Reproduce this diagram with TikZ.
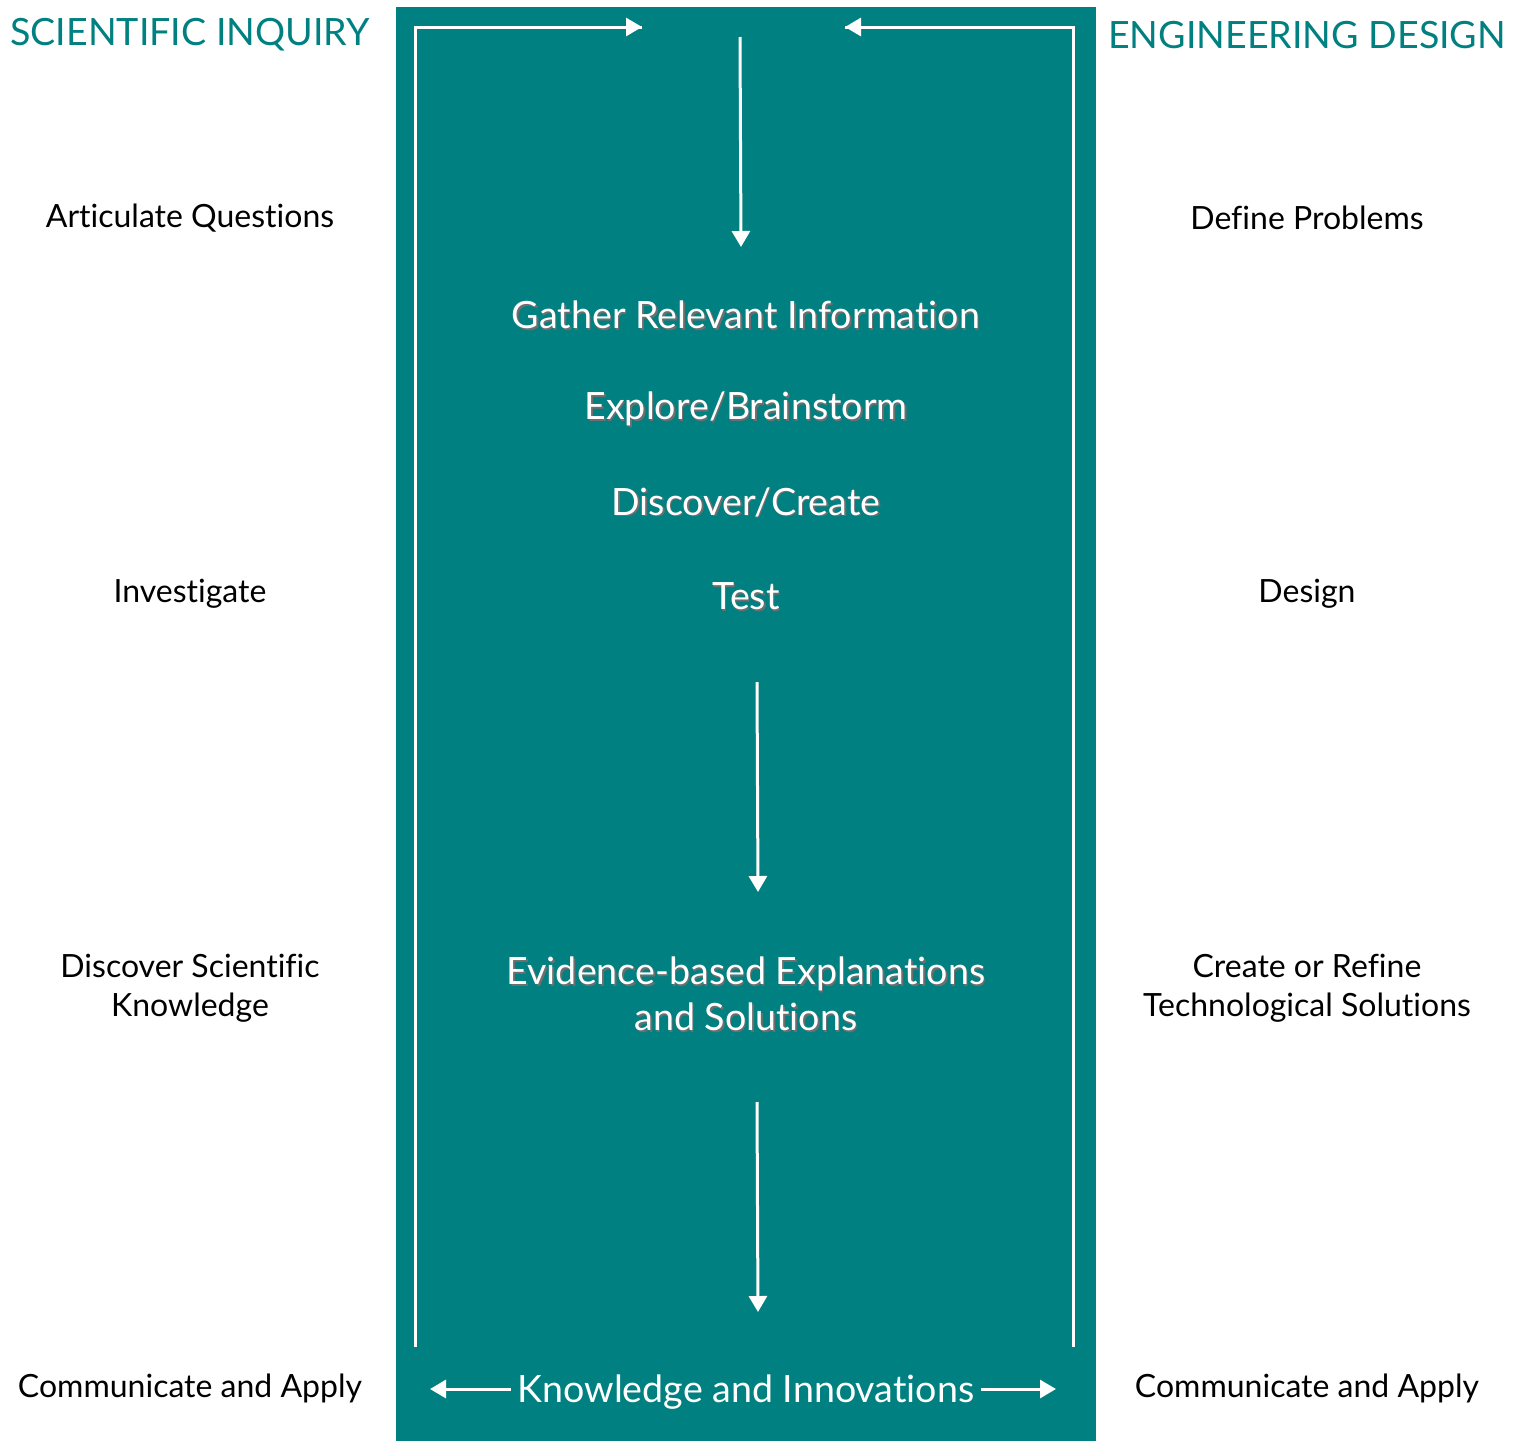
\documentclass[tikz,border=0pt]{standalone}
\usepackage{fontspec}
\setmainfont{Lato}[Ligatures={NoCommon,NoDiscretionary,NoContextual}]
\usetikzlibrary{arrows.meta}
\definecolor{teal1}{RGB}{0,128,128}
\definecolor{shade1}{RGB}{110,110,110}
% white text with a small grey shadow
\newcommand{\shtext}[1]{\makebox[0pt][l]{\hspace{0.8pt}\raisebox{-0.8pt}{\color{shade1}#1}}#1}

\begin{document}
\begin{tikzpicture}[x=0.5pt,y=0.5pt,yscale=-1,xscale=1,
  title/.style={text=teal1,font=\fontsize{18.8}{23}\selectfont,inner sep=0pt},
  side/.style={text=black,font=\fontsize{16}{19.5}\selectfont,align=center,inner sep=0pt},
  inbox/.style={text=white,font=\fontsize{18.8}{23}\selectfont,align=center,inner sep=0pt},
  frame/.style={draw=white,line width=1.5pt},
  flow/.style={draw=white,line width=1.5pt,-{Triangle[width=9pt,length=8pt]}}]
\useasboundingbox (0,0) rectangle (1522,1441);
\fill[teal1] (396,7) rectangle (1096,1441);

% headings
\node[title] (sciTitle) at (190,35) {SCIENTIFIC INQUIRY};
\node[title] (engTitle) at (1307,35) {ENGINEERING DESIGN};

% left column
\node[side] (articulate) at (190,218) {Articulate Questions};
\node[side] (investigate) at (190,594) {Investigate};
\node[side] (discoverSci) at (190,988) {Discover Scientific\\Knowledge};
\node[side] (commLeft) at (190,1388) {Communicate and Apply};

% right column
\node[side] (define) at (1307,218) {Define Problems};
\node[side] (design) at (1307,594) {Design};
\node[side] (createRefine) at (1307,988) {Create or Refine\\Technological Solutions};
\node[side] (commRight) at (1307,1388) {Communicate and Apply};

% middle column
\node[inbox] (gather) at (746,316) {\shtext{Gather Relevant Information}};
\node[inbox] (explore) at (746,410) {\shtext{Explore/Brainstorm}};
\node[inbox] (discover) at (746,503) {\shtext{Discover/Create}};
\node[inbox] (test) at (746,597) {\shtext{Test}};
\node[inbox] (evidence) at (746,995) {\shtext{Evidence-based Explanations}\\\shtext{and Solutions}};
\node[inbox,inner xsep=3pt] (knowledge) at (746,1392) {Knowledge and Innovations};

% frame and arrows
\coordinate (topIn) at (740,37);
\coordinate (gatherIn) at (741,247);
\coordinate (testOut) at (757,682);
\coordinate (evidenceIn) at (758,892);
\coordinate (evidenceOut) at (757,1102);
\coordinate (knowledgeIn) at (758,1312);
\coordinate (leftEnd) at (430,1389);
\coordinate (rightEnd) at (1056,1389);
\coordinate (leftTip) at (642,27);
\coordinate (rightTip) at (845,27);

\draw[frame] (415,1347) -- (415,27) -- (leftTip);
\draw[flow] (425,27) -- (leftTip);
\draw[frame] (1073,1347) -- (1073,27) -- (rightTip);
\draw[flow] (1063,27) -- (rightTip);
\draw[flow] (topIn) -- (gatherIn);
\draw[flow] (testOut) -- (evidenceIn);
\draw[flow] (evidenceOut) -- (knowledgeIn);
\draw[flow] (knowledge.west |- leftEnd) -- (leftEnd);
\draw[flow] (knowledge.east |- rightEnd) -- (rightEnd);
\end{tikzpicture}
\end{document}
